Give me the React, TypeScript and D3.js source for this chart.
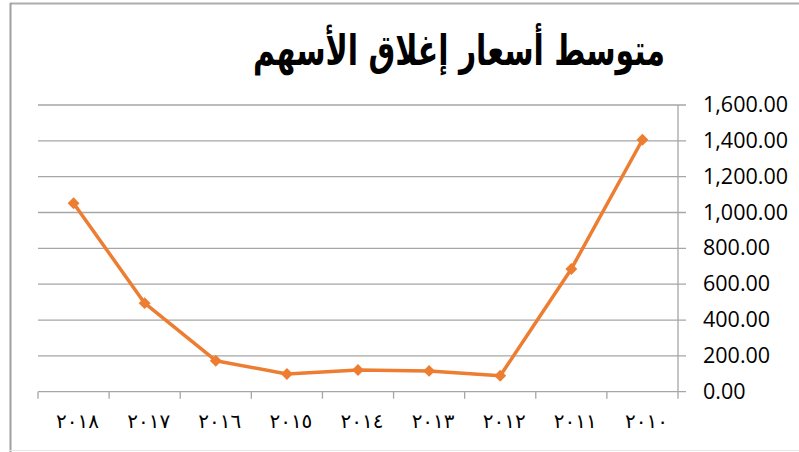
import React from "react";
import * as d3 from "d3";

const title = "متوسط أسعار إغلاق الأسهم";
const categories = ["٢٠١٨", "٢٠١٧", "٢٠١٦", "٢٠١٥", "٢٠١٤", "٢٠١٣", "٢٠١٢", "٢٠١١", "٢٠١٠"];
const values = [1052, 494, 173, 99, 121, 116, 89, 685, 1406];
const yTicks = [0, 200, 400, 600, 800, 1000, 1200, 1400, 1600];

const W = 799;
const H = 452;
const plotLeft = 38;
const plotRight = 678;
const plotTop = 105;
const plotBottom = 391.7;

export default function App() {
  const x = d3.scaleBand<string>().domain(categories).range([plotLeft, plotRight]).padding(0);
  const y = d3.scaleLinear().domain([0, 1600]).range([plotBottom, plotTop]);
  const fmt = d3.format(",.2f");
  const line = d3
    .line<number>()
    .x((_, i) => (x(categories[i]) as number) + x.bandwidth() / 2)
    .y((d) => y(d));
  const diamond = d3.symbol().type(d3.symbolDiamond2).size(90)();
  const ticksX = categories.map((c) => x(c) as number).concat([plotRight]);

  return (
    <svg
      width={W}
      height={H}
      style={{ position: "absolute", left: 0, top: 0, background: "#fff" }}
    >
      <rect x={0} y={0} width={W} height={H} fill="#fff" />
      {/* frame */}
      <line x1={10} x2={W} y1={3.5} y2={3.5} stroke="#adadad" strokeWidth={2} />
      <line x1={10.5} x2={10.5} y1={3} y2={H} stroke="#a0a0a0" strokeWidth={2} />
      <line x1={10} x2={W} y1={450.5} y2={450.5} stroke="#e6e6e6" strokeWidth={1} />

      <g transform="translate(459,65) scale(1,1.15)">
        <text
          x={0}
          y={0}
          textAnchor="middle"
          direction="rtl"
          fontFamily="'DejaVu Sans', 'Noto Sans', serif"
          fontWeight="bold"
          fontSize={37}
          textLength={412}
          lengthAdjust="spacingAndGlyphs"
          fill="#000"
        >
          {title}
        </text>
      </g>

      {/* gridlines */}
      {yTicks.map((t) => (
        <line
          key={t}
          x1={plotLeft}
          x2={plotRight + 8}
          y1={y(t)}
          y2={y(t)}
          stroke="#a6a6a6"
          strokeWidth={1.3}
        />
      ))}
      {/* right axis line */}
      <line x1={plotRight} x2={plotRight} y1={plotTop} y2={plotBottom} stroke="#a6a6a6" strokeWidth={1.3} />
      {/* x ticks */}
      {ticksX.map((tx, i) => (
        <line key={i} x1={tx} x2={tx} y1={plotBottom} y2={plotBottom + 7} stroke="#a6a6a6" strokeWidth={1.3} />
      ))}

      {/* y labels */}
      {yTicks.map((t) => (
        <text
          key={t}
          x={703}
          y={y(t) + 7}
          fontFamily="'Open Sans', sans-serif"
          fontSize={21.5}
          fill="#000"
        >
          {fmt(t)}
        </text>
      ))}

      {/* x labels */}
      {categories.map((c) => (
        <text
          key={c}
          x={(x(c) as number) + x.bandwidth() / 2 + 4}
          y={428}
          textAnchor="middle"
          fontFamily="'DejaVu Sans', serif"
          fontSize={20}
          letterSpacing={8}
          fill="#000"
        >
          {c}
        </text>
      ))}

      <path d={line(values) || ""} fill="none" stroke="#ED7D31" strokeWidth={3.5} strokeLinejoin="round" />
      {values.map((v, i) => (
        <path
          key={i}
          d={diamond || ""}
          transform={`translate(${(x(categories[i]) as number) + x.bandwidth() / 2},${y(v)})`}
          fill="#ED7D31"
        />
      ))}
    </svg>
  );
}
